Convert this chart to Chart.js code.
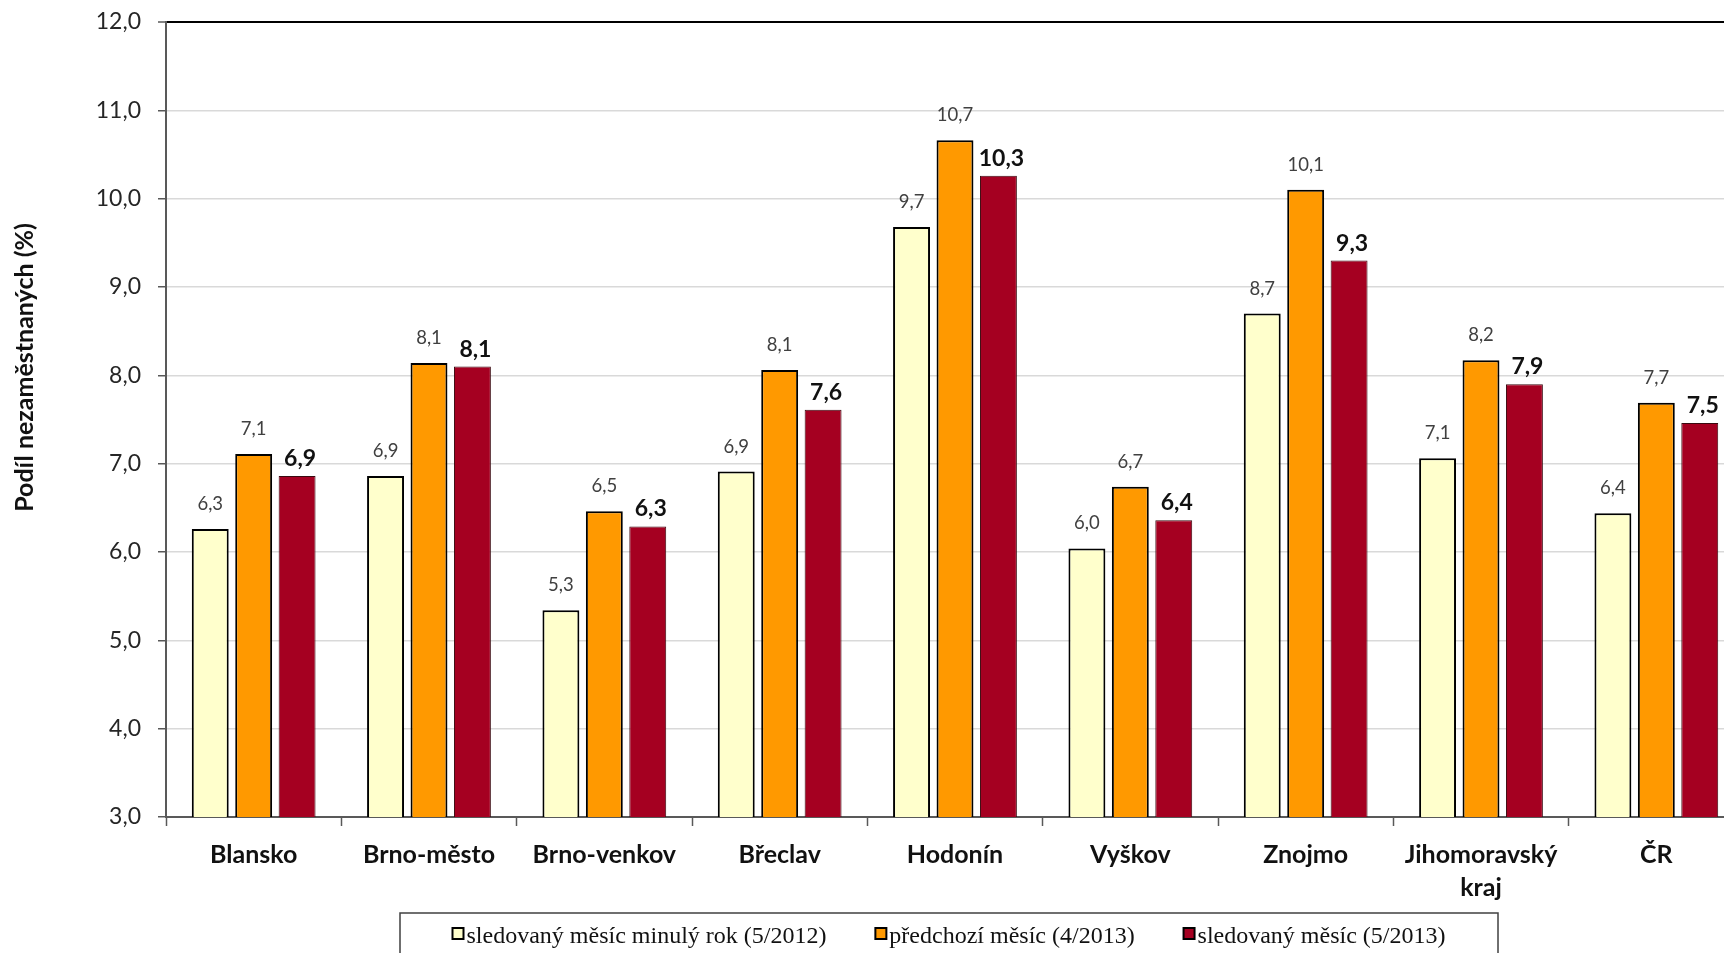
<!DOCTYPE html>
<html>
<head>
<meta charset="utf-8">
<script src="https://cdn.jsdelivr.net/npm/chart.js@4.4.1/dist/chart.umd.min.js"></script>
<style>
  html, body { margin: 0; padding: 0; background: #fff; overflow: hidden; }
  #wrap { position: absolute; left: 0; top: 0; width: 1744px; height: 953px; }
</style>
</head>
<body>
<div id="wrap"><canvas id="unemployment" width="1744" height="953"></canvas></div>
<script>
const districts = ['Blansko', 'Brno-město', 'Brno-venkov', 'Břeclav', 'Hodonín', 'Vyškov', 'Znojmo', ['Jihomoravský', 'kraj'], 'ČR'];
const lastYear = [6.26, 6.86, 5.34, 6.91, 9.68, 6.04, 8.70, 7.06, 6.44];
const prevMonth = [7.11, 8.14, 6.46, 8.06, 10.66, 6.74, 10.10, 8.17, 7.69];
const thisMonth = [6.86, 8.10, 6.29, 7.61, 10.26, 6.36, 9.30, 7.90, 7.46];
const seriesNames = ['sledovaný měsíc minulý rok (5/2012)', 'předchozí měsíc (4/2013)', 'sledovaný měsíc (5/2013)'];
const yTicks = [3, 4, 5, 6, 7, 8, 9, 10, 11, 12];

const fmt = v => v.toFixed(1).replace('.', ',');

// value labels above bars; last series is bold
const barLabels = {
    id: 'barLabels',
    afterDatasetsDraw(chart) {
        const ctx = chart.ctx;
        ctx.save();
        ctx.textAlign = 'center';
        ctx.textBaseline = 'alphabetic';
        chart.data.datasets.forEach((ds, i) => {
            const bold = i === 2;
            ctx.font = bold ? 'bold 23px Lato' : '18.5px Lato';
            ctx.fillStyle = bold ? '#111' : '#404040';
            chart.getDatasetMeta(i).data.forEach((bar, j) => {
                ctx.fillText(fmt(ds.data[j]), bar.x + (bold ? 3 : 0), bar.y - (bold ? 10 : 19));
            });
        });
        ctx.restore();
    }
};

// rotated y title, placed like the original (above plot centre)
const yTitle = {
    id: 'yTitle',
    afterDraw(chart) {
        const ctx = chart.ctx;
        const a = chart.chartArea;
        ctx.save();
        ctx.translate(25, (a.top + a.bottom) / 2 - 52);
        ctx.rotate(-Math.PI / 2);
        ctx.font = 'bold 25px Lato';
        ctx.fillStyle = '#111';
        ctx.textAlign = 'center';
        ctx.textBaseline = 'middle';
        ctx.fillText('Podíl nezaměstnaných (%)', 0, 0);
        ctx.restore();
    }
};

// boxed legend under the chart
const boxLegend = {
    id: 'boxLegend',
    afterDraw(chart) {
        const ctx = chart.ctx;
        const boxL = 400, boxR = 1498, boxT = 913;
        ctx.save();
        ctx.strokeStyle = '#404040';
        ctx.lineWidth = 1.5;
        ctx.strokeRect(boxL, boxT, boxR - boxL, 80);
        ctx.font = '24px "Liberation Serif"';
        ctx.textBaseline = 'alphabetic';
        const mk = 11, gap = 3;
        const widths = chart.data.datasets.map(d => ctx.measureText(d.label).width);
        const total = 993;
        const spacing = (total - widths.reduce((s, w) => s + w, 0) - 3 * (mk + gap)) / 2;
        let x = (boxL + boxR) / 2 - total / 2;
        chart.data.datasets.forEach((d, i) => {
            ctx.fillStyle = d.backgroundColor;
            ctx.fillRect(x, 928, mk, mk);
            ctx.strokeStyle = '#000';
            ctx.lineWidth = 2;
            ctx.strokeRect(x, 928, mk, mk);
            ctx.fillStyle = '#111';
            ctx.fillText(d.label, x + mk + gap, 943);
            x += mk + gap + widths[i] + spacing;
        });
        ctx.restore();
    }
};

function draw() {
    const ctx = document.getElementById('unemployment').getContext('2d');
    new Chart(ctx, {
        type: 'bar',
        data: {
            labels: districts,
            datasets: [{
                label: seriesNames[0],
                data: lastYear,
                backgroundColor: '#FFFFCC',
                borderColor: '#000',
                borderWidth: 2
            }, {
                label: seriesNames[1],
                data: prevMonth,
                backgroundColor: '#FF9900',
                borderColor: '#000',
                borderWidth: 2
            }, {
                label: seriesNames[2],
                data: thisMonth,
                backgroundColor: '#A50021',
                borderColor: '#3a0a10',
                borderWidth: 1
            }]
        },
        options: {
            responsive: false,
            animation: false,
            devicePixelRatio: 1,
            categoryPercentage: 0.743,
            barPercentage: 0.85,
            layout: { padding: { top: 22, left: 0, right: 0, bottom: 0 } },
            plugins: {
                legend: { display: false },
                tooltip: { enabled: false }
            },
            scales: {
                x: {
                    afterFit: s => { s.height = 136; s.paddingLeft = 0; s.paddingRight = 0; },
                    grid: {
                        drawOnChartArea: false,
                        offset: true,
                        tickLength: 9,
                        tickColor: '#595959',
                        tickWidth: 1.5
                    },
                    border: { color: '#595959', width: 2 },
                    ticks: {
                        font: { family: 'Lato', size: 25, weight: 'bold', lineHeight: 1.3 },
                        color: '#111',
                        padding: 13,
                        maxRotation: 0,
                        autoSkip: false
                    }
                },
                y: {
                    min: yTicks[0],
                    max: yTicks[yTicks.length - 1],
                    afterFit: s => { s.width = 166; s.paddingTop = 0; s.paddingBottom = 0; },
                    afterBuildTicks: s => { s.ticks = yTicks.map(v => ({ value: v })); },
                    grid: {
                        color: c => c.tick && c.tick.value === 12 ? '#000' : '#D9D9D9',
                        lineWidth: c => c.tick && c.tick.value === 12 ? 2 : 1.5,
                        tickLength: 8,
                        tickColor: '#595959',
                        tickWidth: 1.5
                    },
                    border: { color: '#595959', width: 2 },
                    ticks: {
                        font: { family: 'Lato', size: 23 },
                        color: '#262626',
                        padding: 17,
                        callback: v => fmt(v)
                    }
                }
            }
        },
        plugins: [barLabels, yTitle, boxLegend]
    });
}

Promise.all([
    document.fonts.load('22px Lato'),
    document.fonts.load('bold 22px Lato'),
    document.fonts.load('24px "Liberation Serif"')
]).then(draw, draw);
</script>
</body>
</html>
